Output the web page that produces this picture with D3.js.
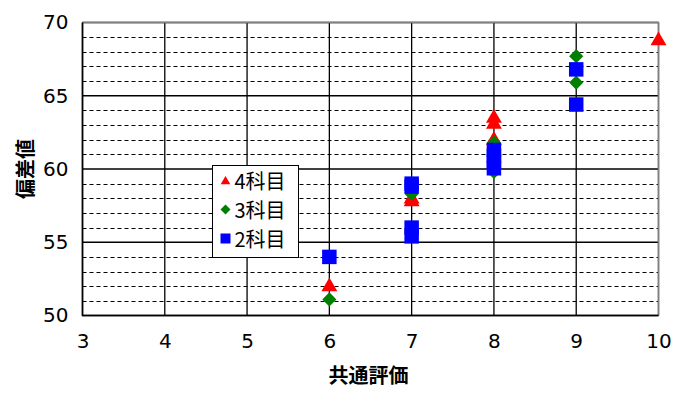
<!DOCTYPE html>
<html>
<head>
<meta charset="utf-8">
<script src="https://cdn.jsdelivr.net/npm/d3@7"></script>
<style>
    html, body { margin: 0; padding: 0; background: #fff; }
    svg { display: block; }
</style>
</head>
<body>
<div id="chart"></div>
<script>
    "use strict";
    // 系列データ (共通評価, 偏差値)
    const seriesNames = ["4科目", "3科目", "2科目"];
    const seriesColors = ["#ff0000", "#008000", "#0000ff"];
    const seriesSymbols = [d3.symbolTriangle, d3.symbolSquare, d3.symbolSquare];
    const seriesRotate = [0, 45, 0];

    const points4 = [[6, 52.1], [7, 58.1], [7, 57.9], [8, 63.6], [8, 63.2], [8, 62.1], [10, 68.9]];
    const points3 = [[6, 51.1], [7, 58.3], [8, 61.8], [8, 59.8], [9, 67.7], [9, 65.9]];
    const points2 = [[6, 54.0], [7, 59.0], [7, 58.8], [7, 56.0], [7, 55.4],
        [8, 61.3], [8, 60.9], [8, 60.5], [8, 60.05], [9, 66.8], [9, 64.4]];

    const xTicks = [3, 4, 5, 6, 7, 8, 9, 10];
    const yTicks = [50, 55, 60, 65, 70];
    const yMinor = d3.range(50, 71, 1);

    const xTitle = "共通評価", yTitle = "偏差値";

    const width = 685, height = 418;
    const plot = {left: 82.5, right: 658.5, top: 22.5, bottom: 315.5};

    const svg = d3.select("#chart").append("svg")
        .attr("width", width)
        .attr("height", height);

    const x = d3.scaleLinear().domain([3, 10]).range([plot.left, plot.right]);
    const y = d3.scaleLinear().domain([50, 70]).range([plot.bottom, plot.top]);

    const tickFont = "'DejaVu Sans', Verdana, sans-serif";
    const jpFont = "'Noto Sans CJK JP', sans-serif";

    // グリッド (補助目盛 点線)
    svg.append("g").selectAll("line")
        .data(yMinor.filter(v => v % 5 !== 0))
        .enter().append("line")
        .attr("x1", plot.left).attr("x2", plot.right)
        .attr("y1", d => Math.round(y(d)) + 0.5).attr("y2", d => Math.round(y(d)) + 0.5)
        .attr("stroke", "#000").attr("stroke-width", 1)
        .attr("stroke-dasharray", "4,3");

    // 主目盛 実線
    svg.append("g").selectAll("line")
        .data(yTicks)
        .enter().append("line")
        .attr("x1", plot.left).attr("x2", plot.right)
        .attr("y1", d => y(d)).attr("y2", d => y(d))
        .attr("stroke", "#000").attr("stroke-width", 1.3);

    svg.append("g").selectAll("line")
        .data(xTicks)
        .enter().append("line")
        .attr("x1", d => x(d)).attr("x2", d => x(d))
        .attr("y1", plot.top).attr("y2", plot.bottom)
        .attr("stroke", "#000").attr("stroke-width", 1.3);

    // 枠線
    svg.append("path")
        .attr("d", `M${plot.left},${plot.top}H${plot.right}V${plot.bottom}`)
        .attr("fill", "none").attr("stroke", "#808080").attr("stroke-width", 1.5);
    svg.append("path")
        .attr("d", `M${plot.left},${plot.top}V${plot.bottom}H${plot.right}`)
        .attr("fill", "none").attr("stroke", "#000").attr("stroke-width", 1.6);

    // 軸ラベル
    const xAxis = d3.axisBottom(x).tickValues(xTicks).tickFormat(d3.format("d")).tickSize(0).tickPadding(18);
    const yAxis = d3.axisLeft(y).tickValues(yTicks).tickFormat(d3.format("d")).tickSize(0).tickPadding(14);

    svg.append("g")
        .attr("transform", `translate(0,${plot.bottom})`)
        .call(xAxis)
        .call(g => g.select(".domain").remove())
        .selectAll("text")
        .attr("font-family", tickFont).attr("font-size", 20).attr("fill", "#000");

    svg.append("g")
        .attr("transform", `translate(${plot.left},0)`)
        .call(yAxis)
        .call(g => g.select(".domain").remove())
        .selectAll("text")
        .attr("font-family", tickFont).attr("font-size", 20).attr("fill", "#000");

    svg.append("text")
        .attr("x", (plot.left + plot.right) / 2 - 2).attr("y", 383)
        .attr("text-anchor", "middle")
        .attr("font-family", jpFont).attr("font-weight", "bold").attr("font-size", 20)
        .text(xTitle);

    svg.append("text")
        .attr("transform", `translate(33,${(plot.top + plot.bottom) / 2}) rotate(-90)`)
        .attr("text-anchor", "middle")
        .attr("font-family", jpFont).attr("font-weight", "bold").attr("font-size", 20)
        .text(yTitle);

    // マーカー
    const allSeries = [points4, points3, points2];
    const symbolSizes = [110, 100, 210];
    allSeries.forEach((pts, i) => {
        const sym = d3.symbol().type(seriesSymbols[i]).size(symbolSizes[i]);
        svg.append("g").selectAll("path")
            .data(pts)
            .enter().append("path")
            .attr("d", sym)
            .attr("transform", d => `translate(${x(d[0])},${y(d[1]) + (i === 0 ? 2 : 0)}) rotate(${seriesRotate[i]})`)
            .attr("fill", seriesColors[i]);
    });

    // 凡例
    const legend = svg.append("g").attr("transform", "translate(212.5,165.5)");
    legend.append("rect")
        .attr("width", 86).attr("height", 92)
        .attr("fill", "#fff").attr("stroke", "#000").attr("stroke-width", 1);
    const legendSizes = [40, 50, 100];
    seriesNames.forEach((name, i) => {
        const row = legend.append("g").attr("transform", `translate(13,${15 + i * 29})`);
        row.append("path")
            .attr("d", d3.symbol().type(seriesSymbols[i]).size(legendSizes[i]))
            .attr("transform", `translate(0,${i === 0 ? 1 : 0}) rotate(${seriesRotate[i]})`)
            .attr("fill", seriesColors[i]);
        row.append("text")
            .attr("x", 9).attr("y", 8)
            .attr("font-family", jpFont).attr("font-size", 20)
            .text(name);
    });
</script>
</body>
</html>
